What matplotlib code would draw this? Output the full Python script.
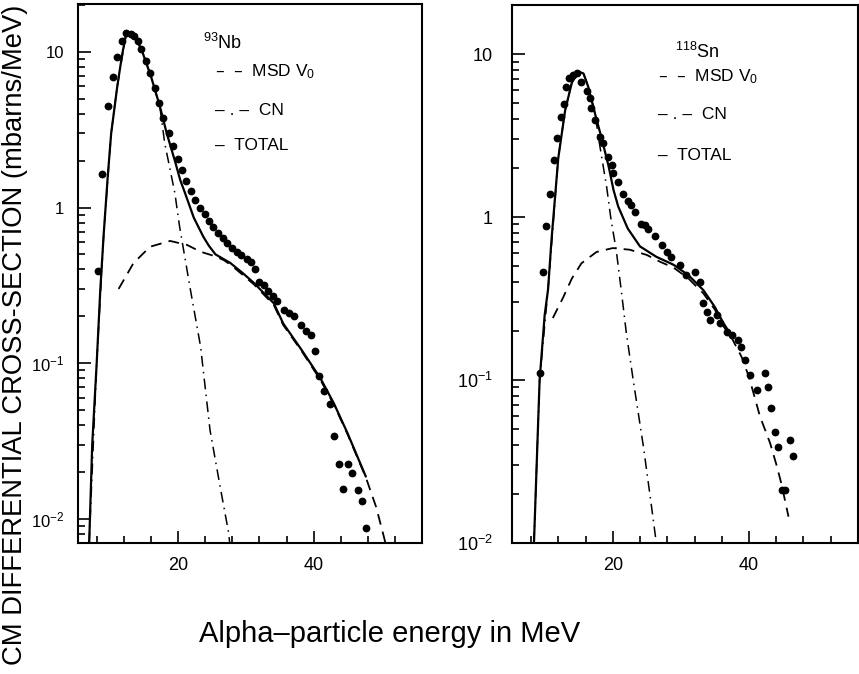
import numpy as np
import matplotlib
matplotlib.use("Agg")
import matplotlib.pyplot as plt
from matplotlib.ticker import LogLocator, FixedLocator, FuncFormatter, NullFormatter

plt.rcParams['font.family'] = ['Liberation Sans', 'DejaVu Sans']
plt.rcParams['mathtext.default'] = 'regular'

# ---- 93Nb panel (left) ----
nb_exp_e = [8.1, 8.8, 9.6, 10.3, 11.0, 11.7, 12.3, 13.0, 13.5, 14.0, 14.5, 15.2, 15.9,
            16.5, 17.2, 17.8, 18.6, 19.2, 19.9, 20.5, 21.2, 21.9, 22.5, 23.2, 23.9, 24.5,
            25.2, 25.9, 26.6, 27.2, 27.9, 28.7, 29.3, 30.1, 30.8, 31.4, 32.0, 32.6, 33.2,
            34.0, 34.6, 35.6, 36.3, 37.1, 38.1, 38.8, 39.6, 40.2, 40.8, 41.5, 42.4, 43.0,
            43.7, 44.3, 45.1, 45.7, 46.5, 47.1, 47.8]
nb_exp_s = [0.39, 1.65, 4.5, 6.9, 9.3, 11.8, 13.2, 13.0, 12.7, 11.8, 10.5, 8.7, 7.3,
            5.9, 4.7, 3.75, 3.0, 2.47, 2.05, 1.73, 1.47, 1.28, 1.12, 1.0, 0.91, 0.82,
            0.755, 0.69, 0.64, 0.59, 0.55, 0.52, 0.495, 0.47, 0.45, 0.40, 0.33, 0.32, 0.29,
            0.27, 0.25, 0.22, 0.21, 0.20, 0.177, 0.16, 0.152, 0.12, 0.083, 0.066, 0.055, 0.034,
            0.0225, 0.0155, 0.0225, 0.0197, 0.0154, 0.0131, 0.0087]

nb_tot_e = [6.85, 7.3, 7.96, 8.5, 9.0, 9.6, 10.1, 11.0, 11.7, 12.3, 12.8, 13.6, 14.6,
            16.0, 17.3, 18.3, 19.5, 20.3, 21.0, 22.3, 23.7, 24.5, 25.5, 27.7, 29.5, 31.2,
            34.1, 35.5, 38.2, 41.0, 43.0, 45.0, 47.7]
nb_tot_s = [0.007, 0.03, 0.1, 0.3, 0.68, 1.6, 3.0, 6.0, 9.5, 13.0, 13.2, 12.5, 10.3,
            6.9, 4.45, 3.0, 2.0, 1.5, 1.24, 0.86, 0.65, 0.57, 0.5, 0.44, 0.38, 0.327,
            0.243, 0.18, 0.122, 0.080, 0.055, 0.0355, 0.0187]

nb_msd_e = [11.2, 13.4, 15.85, 18.8, 21.3, 23.3, 25.2, 26.7, 27.7, 29.5, 31.2, 34.1,
            35.5, 38.2, 41.0, 43.0, 45.0, 47.7, 48.2, 49.2, 49.9, 50.6]
nb_msd_s = [0.30, 0.44, 0.56, 0.61, 0.575, 0.52, 0.49, 0.46, 0.43, 0.37, 0.32, 0.237,
            0.176, 0.12, 0.078, 0.054, 0.035, 0.0185, 0.016, 0.012, 0.0092, 0.007]

nb_cn_e = [6.85, 7.96, 9.0, 10.1, 11.0, 12.3, 12.8, 13.6, 14.6, 16.0, 17.3, 18.0,
           19.5, 20.2, 21.8, 23.3, 24.7, 26.2, 27.45, 27.6]
nb_cn_s = [0.007, 0.1, 0.68, 3.0, 6.0, 13.0, 13.2, 12.5, 10.3, 6.9, 4.4, 2.6,
           1.24, 0.755, 0.296, 0.128, 0.037, 0.016, 0.0081, 0.007]

# ---- 118Sn panel (right) ----
sn_exp_e = [9.26, 9.75, 10.25, 10.8, 11.4, 11.8, 12.4, 12.8, 13.1, 13.6, 14.1, 14.7,
            15.4, 16.2, 16.7, 16.8, 17.4, 18.1, 18.6, 19.3, 19.85, 20.1, 20.8, 21.5,
            22.2, 22.7, 23.3, 24.1, 24.7, 25.2, 26.2, 27.2, 27.9, 28.6, 29.9, 30.8,
            32.1, 32.8, 33.3, 33.8, 34.3, 35.25, 35.7, 36.7, 37.45, 38.4, 38.9, 39.4,
            40.1, 41.2, 42.35, 42.8, 43.3, 43.8, 44.2, 44.8, 45.3, 46.0, 46.5]
sn_exp_s = [0.111, 0.46, 0.88, 1.38, 2.24, 3.07, 4.09, 4.97, 6.25, 7.1, 7.4, 7.7,
            6.77, 5.96, 5.35, 4.64, 3.94, 3.11, 2.83, 2.34, 2.08, 1.86, 1.63, 1.38,
            1.26, 1.19, 1.08, 0.91, 0.89, 0.85, 0.76, 0.67, 0.61, 0.57, 0.51, 0.44,
            0.46, 0.40, 0.295, 0.26, 0.233, 0.25, 0.223, 0.198, 0.189, 0.176, 0.16, 0.133,
            0.107, 0.087, 0.11, 0.091, 0.067, 0.048, 0.039, 0.021, 0.021, 0.043, 0.034]

sn_tot_e = [8.43, 9.26, 10.0, 10.5, 11.0, 12.0, 13.0, 14.0, 15.0, 15.7, 16.4, 17.4,
            18.4, 19.4, 20.1, 20.8, 22.2, 24.0, 26.4, 28.9, 31.1, 33.3, 35.0, 36.2, 37.5]
sn_tot_s = [0.01, 0.1, 0.25, 0.36, 0.72, 2.3, 4.5, 6.7, 7.8, 7.6, 6.3, 4.3,
            3.0, 2.04, 1.47, 1.16, 0.85, 0.66, 0.57, 0.51, 0.44, 0.356, 0.28, 0.225, 0.185]

sn_msd_e = [11.2, 12.7, 14.0, 15.4, 17.6, 20.0, 22.5, 25.0, 27.0, 28.9, 31.1, 33.3,
            35.0, 36.2, 37.5, 38.9, 39.9, 40.6, 41.6, 43.1, 44.1, 44.8, 45.8]
sn_msd_s = [0.24, 0.32, 0.42, 0.52, 0.61, 0.645, 0.63, 0.585, 0.53, 0.49, 0.42, 0.34,
            0.27, 0.215, 0.18, 0.139, 0.107, 0.085, 0.06, 0.041, 0.0295, 0.0227, 0.0145]

sn_cn_e = [8.43, 9.26, 10.5, 12.0, 13.0, 14.0, 15.0, 15.7, 16.4, 17.4, 18.0, 19.1,
           19.75, 20.5, 21.3, 22.0, 23.0, 24.5, 25.7, 26.3, 26.4]
sn_cn_s = [0.01, 0.1, 0.36, 2.3, 4.5, 6.7, 7.8, 7.6, 6.3, 4.3, 2.9, 1.53,
           0.96, 0.63, 0.34, 0.193, 0.1, 0.039, 0.0166, 0.0107, 0.01]

panels = [
    dict(exp=(nb_exp_e, nb_exp_s), tot=(nb_tot_e, nb_tot_s), msd=(nb_msd_e, nb_msd_s),
         cn=(nb_cn_e, nb_cn_s), ylim=(0.007, 20.3), nucl='$^{93}$Nb',
         rect=[0.0908, 0.1944, 0.4005, 0.7997], ysize=12, ypad=10,
         txt=[(0.363, 0.928), (0.398, 0.874), (0.398, 0.803), (0.398, 0.738)]),
    dict(exp=(sn_exp_e, sn_exp_s), tot=(sn_tot_e, sn_tot_s), msd=(sn_msd_e, sn_msd_s),
         cn=(sn_cn_e, sn_cn_s), ylim=(0.01, 20.0), nucl='$^{118}$Sn',
         rect=[0.5960, 0.1944, 0.4028, 0.7982], ysize=13, ypad=14,
         txt=[(0.471, 0.913), (0.422, 0.866), (0.422, 0.796), (0.422, 0.721)]),
]


def decade_label(v, pos):
    if np.isclose(v, 10):
        return '10'
    if np.isclose(v, 1):
        return '1'
    if np.isclose(v, 0.1):
        return '$10^{-1}$'
    if np.isclose(v, 0.01):
        return '$10^{-2}$'
    return ''


fig = plt.figure(figsize=(8.59, 6.74), dpi=100)

for p in panels:
    ax = fig.add_axes(p['rect'])
    ax.set_yscale('log')
    ax.plot(*p['cn'], color='black', lw=1.1, linestyle=(0, (7, 3.5, 1, 3.5)))
    ax.plot(*p['msd'], color='black', lw=1.3, linestyle=(0, (6, 4)))
    ax.plot(*p['tot'], color='black', lw=1.6, solid_capstyle='round')
    ax.plot(*p['exp'], 'o', color='black', ms=4.6, mec='black')
    ax.set_xlim(5.2, 56)
    ax.set_ylim(*p['ylim'])

    ax.xaxis.set_major_locator(FixedLocator([20, 40]))
    ax.xaxis.set_minor_locator(FixedLocator([8, 12, 16, 24, 28, 32, 36, 44, 48, 52]))
    ax.yaxis.set_major_locator(LogLocator(base=10, numticks=10))
    ax.yaxis.set_minor_locator(LogLocator(base=10, subs=np.arange(2, 10), numticks=20))
    ax.yaxis.set_major_formatter(FuncFormatter(decade_label))
    ax.yaxis.set_minor_formatter(NullFormatter())
    ax.tick_params(which='both', direction='in', top=False, right=False, width=1.2)
    ax.tick_params(which='major', length=9, labelsize=13)
    ax.tick_params(which='minor', length=5)
    ax.tick_params(axis='y', which='major', pad=p['ypad'], labelsize=p['ysize'])
    ax.tick_params(axis='x', which='major', pad=10)
    for s in ax.spines.values():
        s.set_linewidth(1.5)

    (xn, yn), (x1, y1), (x2, y2), (x3, y3) = p['txt']
    ax.text(xn, yn, p['nucl'], transform=ax.transAxes, fontsize=13, va='center')
    ax.text(x1, y1, '–  –  MSD V$_0$', transform=ax.transAxes, fontsize=12.5, va='center')
    ax.text(x2, y2, '– . –  CN', transform=ax.transAxes, fontsize=12.5, va='center')
    ax.text(x3, y3, '–  TOTAL', transform=ax.transAxes, fontsize=12.5, va='center')

fig.text(0.0175, 0.503, 'CM DIFFERENTIAL CROSS-SECTION (mbarns/MeV)', rotation=90,
         fontsize=19.7, ha='center', va='center')
fig.text(0.454, 0.059, 'Alpha–particle energy in MeV', fontsize=21,
         ha='center', va='center')

fig.savefig('out.png', dpi=100)
